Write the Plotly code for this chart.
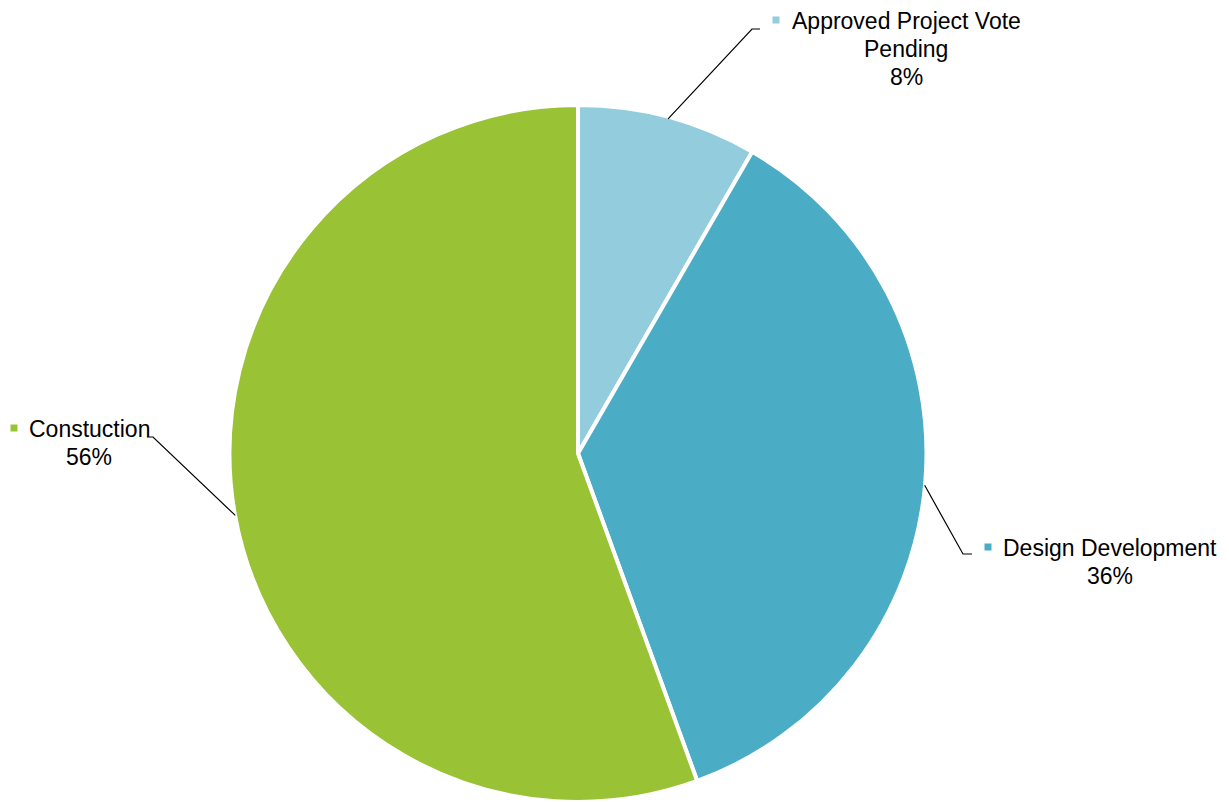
import math
import plotly.graph_objects as go

# ---- data ----
categories = ["Approved Project Vote Pending", "Design Development", "Constuction"]
label_lines = [["Approved Project Vote", "Pending"], ["Design Development"], ["Constuction"]]
values = [3, 13, 20]
colors = ["#93CDDD", "#4BACC6", "#99C234"]

# ---- layout geometry (pixels) ----
W, H = 1229, 802
cx, cy, r = 578, 455, 348
# label placement: (text center x, first line center y, marker x, elbow x, elbow y, end x)
label_pos = [
    (906, 21, 776, 752, 29, 760),
    (1110, 548, 988, 963, 554, 972),
    (89, 429, 14, 153, 437, 147),
]
line_gap = 28
font = dict(family="Liberation Sans, Arial, sans-serif", size=23, color="#000000")


def px(x):
    return x / W


def py(y):
    return 1 - y / H


def clamp(v):
    return min(1.0, max(0.0, v))


dom_r = r + 2
fig = go.Figure(go.Pie(
    labels=categories,
    values=values,
    sort=False,
    direction="clockwise",
    rotation=0,
    marker=dict(colors=colors, line=dict(color="#FFFFFF", width=4)),
    textinfo="none",
    hoverinfo="label+percent",
    showlegend=False,
    domain=dict(x=[clamp(px(cx - dom_r)), clamp(px(cx + dom_r))],
                y=[clamp(py(cy + dom_r)), clamp(py(cy - dom_r))]),
))

annotations = []
shapes = []
total = sum(values)
cum = 0
for i, v in enumerate(values):
    mid = (cum + v / 2) / total * 2 * math.pi
    cum += v
    sx = cx + r * math.sin(mid)
    sy = cy - r * math.cos(mid)
    tx, ty, mx, ex, ey, hx = label_pos[i]
    lines = label_lines[i] + [f"{round(v / total * 100)}%"]
    for j, t in enumerate(lines):
        annotations.append(dict(
            x=px(tx), y=py(ty + j * line_gap), xref="paper", yref="paper",
            text=t, showarrow=False, xanchor="center", yanchor="middle",
            font=font,
        ))
    # marker square
    shapes.append(dict(
        type="rect", xref="paper", yref="paper",
        x0=px(mx - 3.5), x1=px(mx + 3.5), y0=py(ty + 2.5), y1=py(ty - 4.5),
        fillcolor=colors[i], line=dict(width=0),
    ))
    # leader line
    shapes.append(dict(
        type="path", xref="paper", yref="paper",
        path=f"M {px(sx)} {py(sy)} L {px(ex)} {py(ey)} L {px(hx)} {py(ey)}",
        line=dict(color="#000000", width=1.2),
    ))

fig.update_layout(
    width=W, height=H,
    margin=dict(l=0, r=0, t=0, b=0),
    paper_bgcolor="#FFFFFF",
    plot_bgcolor="#FFFFFF",
    annotations=annotations,
    shapes=shapes,
)

fig.write_html("out.html")
